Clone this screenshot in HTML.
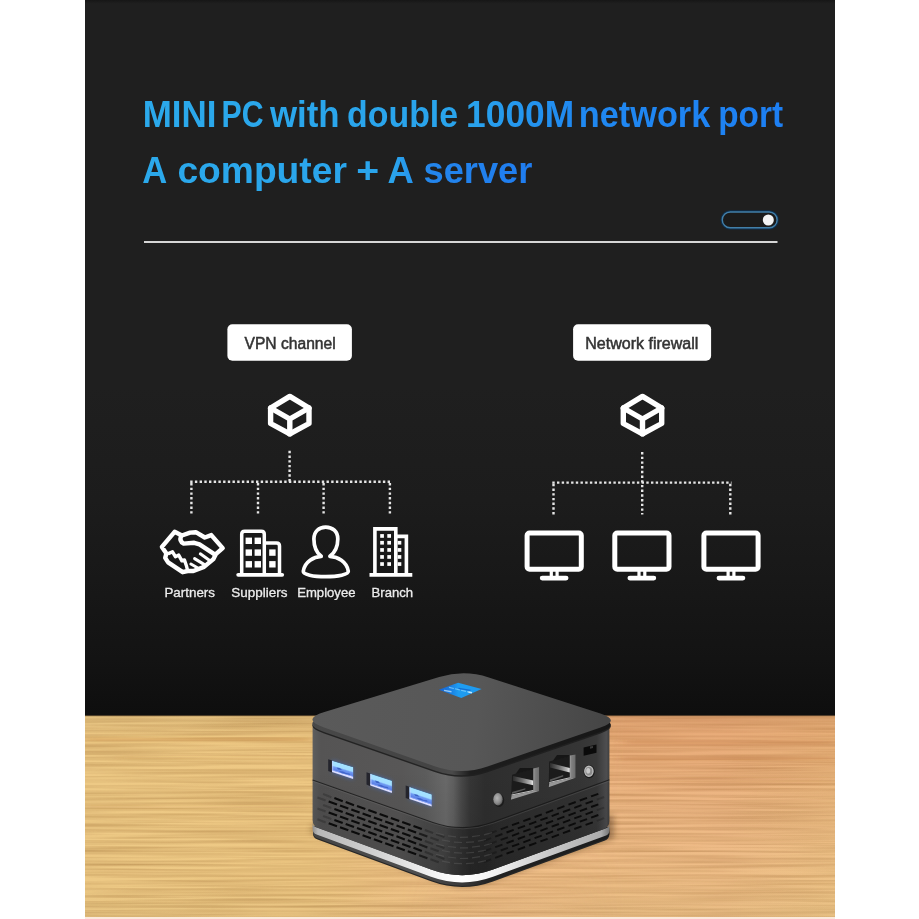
<!DOCTYPE html>
<html>
<head>
<meta charset="utf-8">
<title>MINI PC</title>
<style>
html,body{margin:0;padding:0;background:#ffffff;width:919px;height:919px;overflow:hidden}
svg{display:block;font-family:"Liberation Sans",sans-serif}
</style>
</head>
<body>
<svg width="919" height="919" viewBox="0 0 919 919">
<defs>
  <linearGradient id="bg" x1="0" y1="0" x2="0" y2="919" gradientUnits="userSpaceOnUse">
    <stop offset="0" stop-color="#161616"/>
    <stop offset="0.004" stop-color="#1f1f1f"/>
    <stop offset="0.42" stop-color="#1f1f1f"/>
    <stop offset="0.544" stop-color="#1c1c1c"/>
    <stop offset="0.631" stop-color="#181818"/>
    <stop offset="0.718" stop-color="#131313"/>
    <stop offset="0.778" stop-color="#0e0e0e"/>
  </linearGradient>
  <linearGradient id="ttl" x1="144" y1="0" x2="783" y2="0" gradientUnits="userSpaceOnUse">
    <stop offset="0" stop-color="#2ba9eb"/>
    <stop offset="0.51" stop-color="#29a3ec"/>
    <stop offset="0.67" stop-color="#2089f0"/>
    <stop offset="1" stop-color="#1d7ff3"/>
  </linearGradient>
  <linearGradient id="ttl2" x1="144" y1="0" x2="533" y2="0" gradientUnits="userSpaceOnUse">
    <stop offset="0" stop-color="#2ba9eb"/>
    <stop offset="0.64" stop-color="#2aa4ec"/>
    <stop offset="0.74" stop-color="#2385ec"/>
    <stop offset="1" stop-color="#1f7cef"/>
  </linearGradient>
  <linearGradient id="wood" x1="85" y1="0" x2="835" y2="0" gradientUnits="userSpaceOnUse">
    <stop offset="0" stop-color="#edc985"/>
    <stop offset="0.30" stop-color="#eec884"/>
    <stop offset="0.55" stop-color="#efbd88"/>
    <stop offset="0.85" stop-color="#efbb88"/>
    <stop offset="1" stop-color="#eec087"/>
  </linearGradient>
</defs>

<!-- page -->
<rect x="0" y="0" width="919" height="919" fill="#ffffff"/>
<rect id="panel" x="85" y="0" width="750" height="919" fill="url(#bg)"/>

<!-- TITLE -->
<g id="title" font-weight="bold" font-size="36.5" opacity="0.999">
 <g fill="url(#ttl)">
  <text x="142.7" y="126.8" textLength="73.7" lengthAdjust="spacingAndGlyphs">MINI</text>
  <text x="221.5" y="126.8" textLength="42.0" lengthAdjust="spacingAndGlyphs">PC</text>
  <text x="270.0" y="126.8" textLength="69.6" lengthAdjust="spacingAndGlyphs">with</text>
  <text x="347.1" y="126.8" textLength="111.0" lengthAdjust="spacingAndGlyphs">double</text>
  <text x="466.1" y="126.8" textLength="108.0" lengthAdjust="spacingAndGlyphs">1000M</text>
  <text x="578.8" y="126.8" textLength="131.5" lengthAdjust="spacingAndGlyphs">network</text>
  <text x="718.2" y="126.8" textLength="64.8" lengthAdjust="spacingAndGlyphs">port</text>
 </g>
 <g fill="url(#ttl2)">
  <text x="142.2" y="182.6" textLength="25.0" lengthAdjust="spacingAndGlyphs">A</text>
  <text x="177.4" y="182.6" textLength="169.5" lengthAdjust="spacingAndGlyphs">computer</text>
  <text x="356.2" y="182.6" textLength="22.9" lengthAdjust="spacingAndGlyphs">+</text>
  <text x="387.5" y="182.6" textLength="26.3" lengthAdjust="spacingAndGlyphs">A</text>
  <text x="423.5" y="182.6" textLength="108.9" lengthAdjust="spacingAndGlyphs">server</text>
 </g>
</g>

<!-- rule + toggle -->
<rect x="144" y="241" width="633.5" height="2" fill="#d6d6d6"/>
<g id="toggle">
  <rect x="722.3" y="212" width="54.8" height="15.8" rx="7.9" fill="none" stroke="#0e2f4d" stroke-width="3.4"/>
  <rect x="722.3" y="212" width="54.8" height="15.8" rx="7.9" fill="#1b1b1b" stroke="#427fa8" stroke-width="1.4"/>
  <circle cx="768.3" cy="220" r="5.5" fill="#f4f4f4"/>
</g>

<!--DIAGRAM-->
<g id="diagram">
  <!-- label boxes -->
  <rect x="227.4" y="324.3" width="124.5" height="36.5" rx="5" fill="#ffffff"/>
  <rect x="573.1" y="324.3" width="138" height="36.5" rx="5" fill="#ffffff"/>
  <g font-size="15.6" fill="#333333" stroke="#333333" stroke-width="0.5" opacity="0.999">
    <text x="244.5" y="348.6" textLength="91.2" lengthAdjust="spacingAndGlyphs">VPN channel</text>
    <text x="585.2" y="348.6" textLength="113.2" lengthAdjust="spacingAndGlyphs">Network firewall</text>
  </g>
  <!-- cubes -->
  <g id="cube1" fill="none" stroke="#ffffff" stroke-width="5.4" stroke-linejoin="round" stroke-linecap="round">
    <path d="M289.8 396.4 L309 408 L309 423.5 L289.8 433.9 L270.6 423.5 L270.6 408 Z"/>
    <path d="M270.6 408 L289.8 419 L309 408 M289.8 419 L289.8 433.9"/>
  </g>
  <g id="cube2" fill="none" stroke="#ffffff" stroke-width="5.4" stroke-linejoin="round" stroke-linecap="round">
    <path d="M642.5 396.4 L661.7 408 L661.7 423.5 L642.5 433.9 L623.3 423.5 L623.3 408 Z"/>
    <path d="M623.3 408 L642.5 419 L661.7 408 M642.5 419 L642.5 433.9"/>
  </g>
  <!-- dotted trees -->
  <g fill="none" stroke="#e6e6e6" stroke-width="2.4" stroke-dasharray="2.4 2.3">
    <path d="M289.6 450.8 V483"/>
    <path d="M190.2 481.8 H391.1"/>
    <path d="M191.4 483 V515.5 M258 483 V515.5 M323.6 483 V515.5 M389.9 483 V515.5"/>
    <path d="M642.2 452 V514.5"/>
    <path d="M552.3 482.6 H731.5"/>
    <path d="M553.5 483.8 V514.5 M730.3 483.8 V514.5"/>
  </g>
  <!-- monitors -->
  <g id="monitors" fill="none" stroke="#ffffff">
    <g id="mon1">
      <rect x="527.1" y="533" width="54.2" height="36.3" rx="2.5" stroke-width="5"/>
      <path d="M551.3 571 V577 M557.1 571 V577" stroke-width="3.2"/>
      <path d="M542.2 578.1 H566.1" stroke-width="4.8" stroke-linecap="round"/>
    </g>
    <g id="mon2" transform="translate(87.7 0)">
      <rect x="527.1" y="533" width="54.2" height="36.3" rx="2.5" stroke-width="5"/>
      <path d="M551.3 571 V577 M557.1 571 V577" stroke-width="3.2"/>
      <path d="M542.2 578.1 H566.1" stroke-width="4.8" stroke-linecap="round"/>
    </g>
    <g id="mon3" transform="translate(176.8 0)">
      <rect x="527.1" y="533" width="54.2" height="36.3" rx="2.5" stroke-width="5"/>
      <path d="M551.3 571 V577 M557.1 571 V577" stroke-width="3.2"/>
      <path d="M542.2 578.1 H566.1" stroke-width="4.8" stroke-linecap="round"/>
    </g>
  </g>
  <!-- icon labels -->
  <g font-size="12.6" fill="#ececec" stroke="#ececec" stroke-width="0.3" opacity="0.999">
    <text x="164.4" y="596.6" textLength="50.6" lengthAdjust="spacingAndGlyphs">Partners</text>
    <text x="231.3" y="596.6" textLength="56.1" lengthAdjust="spacingAndGlyphs">Suppliers</text>
    <text x="297.2" y="596.6" textLength="58.3" lengthAdjust="spacingAndGlyphs">Employee</text>
    <text x="371.5" y="596.6" textLength="41.6" lengthAdjust="spacingAndGlyphs">Branch</text>
  </g>
  <!--ICONS-->
  <g id="ic-hand" fill="none" stroke="#ffffff" stroke-width="4.4" stroke-linejoin="round" stroke-linecap="round">
    <path d="M174.6 531.8 L161.9 546.9 L166.4 553.4 L165.2 557.9 L168.1 562.4 L182.7 572.2 L187.6 571.0 L193.4 571.0 L204.0 566.9 L213.4 559.1 L215.8 554.2 L222.7 548.1 L211.3 535.1 L204.8 537.5 L195.8 532.2 L190.1 532.6 L181.9 535.5 Z"/>
    <path d="M181.0 536.3 Q179.1 541.2 183.6 543.6 L194.2 542.8 L199.5 544.4 L215.0 554.6"/>
    <path d="M200.3 553.8 L209.3 560.2 M194.6 558.6 L204.0 564.4 M190.9 564.0 L197.4 567.7" stroke-width="3"/>
    <path d="M168.9 553.4 L172.5 551.8 L175.4 556.7 L178.7 555.1 L181.9 560.8 L184.4 559.9 L186.4 565.7 L187.2 568.9" stroke-width="3.4"/>
  </g>
  <g id="ic-sup" fill="none" stroke="#ffffff" stroke-width="3.5">
    <path d="M241.7 574.6 V534.3 Q241.7 531.3 244.7 531.3 H261.3 Q264.3 531.3 264.3 534.3 V574.6"/>
    <path d="M264.3 543 H276.5 Q279.5 543 279.5 546 V574.6"/>
    <path d="M238.2 574.8 H282.2" stroke-width="3.8" stroke-linecap="round"/>
    <g fill="#ffffff" stroke="none">
      <rect x="245.6" y="537.6" width="6.4" height="6.4"/><rect x="254.6" y="537.6" width="6.4" height="6.4"/>
      <rect x="245.6" y="549.4" width="6.4" height="6.4"/><rect x="254.6" y="549.4" width="6.4" height="6.4"/>
      <rect x="245.6" y="561.1" width="6.4" height="6.4"/><rect x="254.6" y="561.1" width="6.4" height="6.4"/>
      <rect x="269.2" y="549.4" width="6.4" height="6.4"/><rect x="269.2" y="561.1" width="6.4" height="6.4"/>
    </g>
  </g>
  <g id="ic-emp" fill="none" stroke="#ffffff" stroke-width="3.7" stroke-linejoin="round">
    <path d="M321.2 556.3 C316.5 552.5 313.9 545.5 313.9 538.9 C313.9 531.5 319 527.1 325.7 527.1 C332.5 527.1 337.8 531.5 337.8 538.9 C337.8 545.5 334.8 552.5 329.9 556.3 C337.5 556.8 346.8 561.5 348.3 571.2 C348.5 574.5 338 576.7 325.7 576.7 C313 576.7 303 574.5 303.3 571.2 C304.8 561.5 314 556.8 321.2 556.3 Z"/>
  </g>
  <g id="ic-br" fill="none" stroke="#ffffff" stroke-width="3.6">
    <path d="M374.9 574.4 V528.9 H395.8 V574.4"/>
    <path d="M395.8 536.4 H406.4 V574.4"/>
    <path d="M369.5 574.9 H412.3" stroke-width="3.9"/>
    <g fill="#ffffff" stroke="none">
      <rect x="380.2" y="534.1" width="3.7" height="3.7"/><rect x="387.3" y="534.1" width="3.7" height="3.7"/><rect x="380.2" y="540.9" width="3.7" height="3.7"/><rect x="387.3" y="540.9" width="3.7" height="3.7"/><rect x="380.2" y="548.1" width="3.7" height="3.7"/><rect x="387.3" y="548.1" width="3.7" height="3.7"/><rect x="380.2" y="555.1" width="3.7" height="3.7"/><rect x="387.3" y="555.1" width="3.7" height="3.7"/><rect x="380.2" y="562.2" width="3.7" height="3.7"/><rect x="387.3" y="562.2" width="3.7" height="3.7"/>
      <rect x="397.6" y="540.9" width="3.7" height="3.7"/><rect x="397.6" y="548.1" width="3.7" height="3.7"/><rect x="397.6" y="555.1" width="3.7" height="3.7"/><rect x="397.6" y="562.2" width="3.7" height="3.7"/>
    </g>
  </g>
</g>
<!--WOOD-->
<g id="wood">
  <defs>
    <filter id="grain" x="0" y="0" width="100%" height="100%" color-interpolation-filters="sRGB">
      <feTurbulence type="fractalNoise" baseFrequency="0.006 0.36" numOctaves="2" seed="11" result="n"/>
      <feColorMatrix in="n" type="matrix" values="0 0 0 0 0.45  0 0 0 0 0.25  0 0 0 0 0.05  0.32 0.32 0 0 -0.235" result="g"/>
      <feComposite in="g" in2="SourceGraphic" operator="in"/>
    </filter>
    <clipPath id="woodclip"><rect x="85" y="715.6" width="750" height="201.4"/></clipPath>
    <filter id="wblur" x="-5%" y="-300%" width="110%" height="700%"><feGaussianBlur stdDeviation="6 1"/></filter>
    <linearGradient id="rmaskg" x1="85" y1="0" x2="835" y2="0" gradientUnits="userSpaceOnUse">
      <stop offset="0.42" stop-color="#000"/>
      <stop offset="0.72" stop-color="#fff"/>
    </linearGradient>
    <mask id="rmask" maskUnits="userSpaceOnUse" x="85" y="715" width="750" height="204"><rect x="85" y="715" width="750" height="204" fill="url(#rmaskg)"/></mask>
    <linearGradient id="rtint" x1="0" y1="715" x2="0" y2="917" gradientUnits="userSpaceOnUse">
      <stop offset="0" stop-color="#cf7444" stop-opacity="0.26"/>
      <stop offset="0.25" stop-color="#cf7444" stop-opacity="0.16"/>
      <stop offset="0.5" stop-color="#d88858" stop-opacity="0.04"/>
      <stop offset="0.7" stop-color="#e8d080" stop-opacity="0.06"/>
      <stop offset="1" stop-color="#ecd688" stop-opacity="0.22"/>
    </linearGradient>
    <linearGradient id="woodv" x1="0" y1="715" x2="0" y2="917" gradientUnits="userSpaceOnUse">
      <stop offset="0" stop-color="#000" stop-opacity="0.05"/>
      <stop offset="0.1" stop-color="#000" stop-opacity="0"/>
      <stop offset="0.85" stop-color="#000" stop-opacity="0"/>
      <stop offset="1" stop-color="#000" stop-opacity="0.03"/>
    </linearGradient>
  </defs>
  <rect x="85" y="715.6" width="750" height="203.4" fill="url(#wood)"/>
  <rect x="85" y="715.6" width="750" height="201.4" fill="#000" filter="url(#grain)"/>
  <rect x="85" y="715.6" width="750" height="201.4" fill="url(#woodv)"/>
  <rect x="85" y="715.6" width="750" height="201.4" fill="url(#rtint)" mask="url(#rmask)"/>
  <g clip-path="url(#woodclip)"><g filter="url(#wblur)" fill="#b8703c">
    <rect x="85" y="738" width="225" height="2.6" opacity="0.42" fill="#c4853f"/>
    <rect x="120" y="757" width="180" height="1.2" opacity="0.15"/>
    <rect x="625" y="741.5" width="210" height="1.8" opacity="0.5"/>
    <rect x="620" y="757.5" width="215" height="1.6" opacity="0.4"/>
    <rect x="85" y="806" width="220" height="1.4" opacity="0.14"/>
    <rect x="640" y="779" width="195" height="1.4" opacity="0.16"/>
  </g></g>
  <rect x="85" y="715" width="750" height="1.2" fill="#3a2a18" opacity="0.5"/>
  <rect x="85" y="917" width="750" height="2" fill="#fbe9dc"/>
</g>
<!--PC-->
<g id="pc">
  <defs>
    <linearGradient id="bodyg" x1="312" y1="0" x2="610" y2="0" gradientUnits="userSpaceOnUse">
      <stop offset="0" stop-color="#606060"/>
      <stop offset="0.012" stop-color="#5a5a5a"/>
      <stop offset="0.03" stop-color="#555454"/>
      <stop offset="0.30" stop-color="#585757"/>
      <stop offset="0.38" stop-color="#5c5c5c"/>
      <stop offset="0.42" stop-color="#646464"/>
      <stop offset="0.45" stop-color="#696969"/>
      <stop offset="0.475" stop-color="#5f5f5f"/>
      <stop offset="0.50" stop-color="#494949"/>
      <stop offset="0.53" stop-color="#363636"/>
      <stop offset="0.58" stop-color="#2e2e2e"/>
      <stop offset="0.90" stop-color="#353535"/>
      <stop offset="0.955" stop-color="#393939"/>
      <stop offset="0.988" stop-color="#4e4e50"/>
      <stop offset="1" stop-color="#3c3c3c"/>
    </linearGradient>
    <linearGradient id="bodyv" x1="0" y1="770" x2="0" y2="880" gradientUnits="userSpaceOnUse">
      <stop offset="0" stop-color="#000" stop-opacity="0"/>
      <stop offset="1" stop-color="#000" stop-opacity="0.12"/>
    </linearGradient>
    <linearGradient id="ventg" x1="312" y1="0" x2="610" y2="0" gradientUnits="userSpaceOnUse">
      <stop offset="0" stop-color="#000" stop-opacity="0.06"/>
      <stop offset="0.30" stop-color="#000" stop-opacity="0.05"/>
      <stop offset="0.40" stop-color="#000" stop-opacity="0.25"/>
      <stop offset="0.47" stop-color="#000" stop-opacity="0.42"/>
      <stop offset="0.53" stop-color="#000" stop-opacity="0.25"/>
      <stop offset="0.62" stop-color="#000" stop-opacity="0.08"/>
      <stop offset="1" stop-color="#000" stop-opacity="0.06"/>
    </linearGradient>
    <linearGradient id="topg" x1="312" y1="700" x2="610" y2="740" gradientUnits="userSpaceOnUse">
      <stop offset="0" stop-color="#5a5a5a"/>
      <stop offset="0.55" stop-color="#575757"/>
      <stop offset="1" stop-color="#454545"/>
    </linearGradient>
    <linearGradient id="lidg" x1="312" y1="0" x2="610" y2="0" gradientUnits="userSpaceOnUse">
      <stop offset="0" stop-color="#484848"/>
      <stop offset="0.40" stop-color="#444444"/>
      <stop offset="0.47" stop-color="#4a4a4a"/>
      <stop offset="0.53" stop-color="#1e1e1e"/>
      <stop offset="1" stop-color="#161616"/>
    </linearGradient>
    <linearGradient id="bandg" x1="312" y1="0" x2="610" y2="0" gradientUnits="userSpaceOnUse">
      <stop offset="0" stop-color="#8a8a8a"/>
      <stop offset="0.02" stop-color="#b8b8b8"/>
      <stop offset="0.2" stop-color="#cfcfcf"/>
      <stop offset="0.4" stop-color="#f2f2f2"/>
      <stop offset="0.5" stop-color="#ffffff"/>
      <stop offset="0.62" stop-color="#f0f0f0"/>
      <stop offset="0.8" stop-color="#c8c8c8"/>
      <stop offset="0.97" stop-color="#adadad"/>
      <stop offset="1" stop-color="#707070"/>
    </linearGradient>
    <linearGradient id="stk" x1="439" y1="0" x2="482" y2="0" gradientUnits="userSpaceOnUse">
      <stop offset="0" stop-color="#1763d2"/>
      <stop offset="0.28" stop-color="#1a7fe2"/>
      <stop offset="0.45" stop-color="#1e9cf0"/>
      <stop offset="1" stop-color="#1e9af0"/>
    </linearGradient>
    <linearGradient id="baseg" x1="312" y1="0" x2="610" y2="0" gradientUnits="userSpaceOnUse">
      <stop offset="0" stop-color="#444444"/>
      <stop offset="0.35" stop-color="#505050"/>
      <stop offset="0.5" stop-color="#3a3a3a"/>
      <stop offset="0.6" stop-color="#222222"/>
      <stop offset="1" stop-color="#1c1c1c"/>
    </linearGradient>
    <linearGradient id="usbg" x1="0" y1="0" x2="0" y2="1">
      <stop offset="0" stop-color="#a6d8ff"/>
      <stop offset="0.28" stop-color="#86c2ff"/>
      <stop offset="0.5" stop-color="#4f86f2"/>
      <stop offset="0.78" stop-color="#5c90fb"/>
      <stop offset="1" stop-color="#b4ceff"/>
    </linearGradient>
    <linearGradient id="ethbar" x1="0" y1="0" x2="1" y2="0">
      <stop offset="0" stop-color="#2c2c2c"/>
      <stop offset="0.45" stop-color="#6a6a6a"/>
      <stop offset="0.85" stop-color="#b8b8b8"/>
      <stop offset="1" stop-color="#ececec"/>
    </linearGradient>
    <linearGradient id="ethwall" x1="0" y1="0" x2="1" y2="0">
      <stop offset="0" stop-color="#a0a0a0"/>
      <stop offset="0.3" stop-color="#808080"/>
      <stop offset="1" stop-color="#6c6c6c"/>
    </linearGradient>
    <radialGradient id="screw" cx="0.4" cy="0.4" r="0.7">
      <stop offset="0" stop-color="#b5b5b5"/>
      <stop offset="0.6" stop-color="#8a8a8a"/>
      <stop offset="1" stop-color="#4a4a4a"/>
    </radialGradient>
    <filter id="blur3" x="-20%" y="-20%" width="140%" height="140%"><feGaussianBlur stdDeviation="3"/></filter>
    <filter id="glow" x="-30%" y="-30%" width="160%" height="160%"><feGaussianBlur stdDeviation="2"/></filter>
  </defs>
  <!-- shadow -->
  <path d="M311 832 L440 881 Q462 891 484 883 L614 838 L614 815 L312 826 Z" fill="#3a2408" opacity="0.4" filter="url(#blur3)"/>
  <!-- base -->
  <path d="M313.0 825.9 L313.0 832.7 Q312.6 838.0 317.6 839.5 L431.0 881.3 Q462.0 892.7 493.0 881.4 L604.4 840.7 Q609.4 839.2 609.4 833.9 L609.0 827.1 Z" fill="#262626"/>
  <path d="M313.0 825.9 L313.0 831.5 Q312.6 836.8 317.6 838.3 L431.0 880.1 Q462.0 891.5 493.0 880.2 L604.4 839.5 Q609.4 838.0 609.4 832.7 L609.0 827.1 Z" fill="url(#baseg)"/>
  <!-- silver band -->
  <path d="M312.6 820.9 L312.6 821.9 Q312.6 826.2 316.6 827.4 L431.0 869.5 Q462.0 880.9 493.0 869.6 L605.4 828.5 Q609.4 827.4 609.4 823.1 L609.4 830.3 Q609.4 834.6 605.4 835.7 L493.0 876.8 Q462.0 888.1 431.0 876.7 L316.6 834.5 Q312.6 833.4 312.6 829.1 Z" fill="url(#bandg)"/>
  <!-- body -->
  <path d="M312.6 722 L312.6 819.9 Q312.6 826.2 318.6 828.1 L431.0 869.5 Q462.0 880.9 493.0 869.6 L603.4 829.2 Q609.4 827.4 609.4 821.1 L609.4 722 Z" fill="url(#bodyg)"/>
  <path d="M312.6 722 L312.6 819.9 Q312.6 826.2 318.6 828.1 L431.0 869.5 Q462.0 880.9 493.0 869.6 L603.4 829.2 Q609.4 827.4 609.4 821.1 L609.4 722 Z" fill="url(#bodyv)"/>
  <!-- vent zone -->
  <path d="M312.6 779.9 L432.9 822.4 Q463.1 833.0 493.2 822.1 L609.4 779.8 L609.4 823.1 L609.4 827.1 L493.0 869.6 Q462.0 880.9 431.0 869.5 L312.6 825.9 Z" fill="url(#ventg)"/>
  <path d="M312.6 779.9 L432.9 822.4 Q463.1 833.0 493.2 822.1 L609.4 779.8" fill="none" stroke="#161616" stroke-width="1.1" opacity="0.75"/>
  <path d="M312.6 781.1 L432.9 823.6 Q463.1 834.2 493.2 823.3 L609.4 781.0" fill="none" stroke="#8a8a8a" stroke-width="0.8" opacity="0.25"/>
  <g id="dashes" stroke="#0b0b0b" stroke-width="2.1" stroke-linecap="butt" fill="none">
  <path d="M323.1 794.1 L331.4 797.2" opacity="0.22"/><path d="M334.4 798.1 L342.7 801.2" opacity="1"/><path d="M345.7 802.1 L354.0 805.2" opacity="1"/><path d="M357.0 806.1 L365.3 809.1" opacity="1"/><path d="M368.3 810.1 L376.6 813.1" opacity="1"/><path d="M379.6 814.1 L387.9 817.1" opacity="1"/><path d="M390.9 818.1 L399.2 821.1" opacity="1"/><path d="M402.2 822.1 L410.5 825.1" opacity="1"/><path d="M413.5 826.0 L421.8 829.1" opacity="1"/><path d="M424.8 830.0 L433.1 833.1" opacity="0.3"/><path d="M436.1 834.0 L444.4 837.1" opacity="0.3"/><path d="M317.4 797.5 L325.7 800.6" opacity="0.22"/><path d="M328.7 801.5 L337.0 804.5" opacity="1"/><path d="M340.0 805.5 L348.3 808.5" opacity="1"/><path d="M351.3 809.5 L359.6 812.5" opacity="1"/><path d="M362.6 813.5 L370.9 816.5" opacity="1"/><path d="M373.9 817.5 L382.2 820.5" opacity="1"/><path d="M385.2 821.5 L393.5 824.5" opacity="1"/><path d="M396.5 825.4 L404.8 828.5" opacity="1"/><path d="M407.8 829.4 L416.1 832.5" opacity="1"/><path d="M419.1 833.4 L427.4 836.5" opacity="0.7"/><path d="M430.4 837.4 L438.7 840.4" opacity="0.3"/><path d="M323.1 805.0 L331.4 808.1" opacity="0.22"/><path d="M334.4 809.0 L342.7 812.1" opacity="1"/><path d="M345.7 813.0 L354.0 816.1" opacity="1"/><path d="M357.0 817.0 L365.3 820.0" opacity="1"/><path d="M368.3 821.0 L376.6 824.0" opacity="1"/><path d="M379.6 825.0 L387.9 828.0" opacity="1"/><path d="M390.9 829.0 L399.2 832.0" opacity="1"/><path d="M402.2 833.0 L410.5 836.0" opacity="1"/><path d="M413.5 836.9 L421.8 840.0" opacity="1"/><path d="M424.8 840.9 L433.1 844.0" opacity="0.3"/><path d="M436.1 844.9 L444.4 848.0" opacity="0.3"/><path d="M317.4 808.4 L325.7 811.5" opacity="0.22"/><path d="M328.7 812.4 L337.0 815.4" opacity="1"/><path d="M340.0 816.4 L348.3 819.4" opacity="1"/><path d="M351.3 820.4 L359.6 823.4" opacity="1"/><path d="M362.6 824.4 L370.9 827.4" opacity="1"/><path d="M373.9 828.4 L382.2 831.4" opacity="1"/><path d="M385.2 832.4 L393.5 835.4" opacity="1"/><path d="M396.5 836.3 L404.8 839.4" opacity="1"/><path d="M407.8 840.3 L416.1 843.4" opacity="1"/><path d="M419.1 844.3 L427.4 847.4" opacity="0.7"/><path d="M430.4 848.3 L438.7 851.3" opacity="0.3"/><path d="M323.1 815.9 L331.4 819.0" opacity="0.22"/><path d="M334.4 819.9 L342.7 823.0" opacity="1"/><path d="M345.7 823.9 L354.0 827.0" opacity="1"/><path d="M357.0 827.9 L365.3 830.9" opacity="1"/><path d="M368.3 831.9 L376.6 834.9" opacity="1"/><path d="M379.6 835.9 L387.9 838.9" opacity="1"/><path d="M390.9 839.9 L399.2 842.9" opacity="1"/><path d="M402.2 843.9 L410.5 846.9" opacity="1"/><path d="M413.5 847.8 L421.8 850.9" opacity="1"/><path d="M424.8 851.8 L433.1 854.9" opacity="0.3"/><path d="M436.1 855.8 L444.4 858.9" opacity="0.3"/><path d="M317.4 819.3 L325.7 822.4" opacity="0.22"/><path d="M328.7 823.3 L337.0 826.3" opacity="1"/><path d="M340.0 827.3 L348.3 830.3" opacity="1"/><path d="M351.3 831.3 L359.6 834.3" opacity="1"/><path d="M362.6 835.3 L370.9 838.3" opacity="1"/><path d="M373.9 839.3 L382.2 842.3" opacity="1"/><path d="M385.2 843.3 L393.5 846.3" opacity="1"/><path d="M396.5 847.2 L404.8 850.3" opacity="1"/><path d="M407.8 851.2 L416.1 854.3" opacity="1"/><path d="M419.1 855.2 L427.4 858.3" opacity="0.7"/><path d="M430.4 859.2 L438.7 862.2" opacity="0.3"/><path d="M591.1 796.4 L598.3 793.8" opacity="1" stroke-width="1.9"/><path d="M579.8 800.5 L587.0 797.9" opacity="1" stroke-width="1.9"/><path d="M568.5 804.7 L575.7 802.0" opacity="1" stroke-width="1.9"/><path d="M557.2 808.8 L564.4 806.1" opacity="1" stroke-width="1.9"/><path d="M545.9 812.9 L553.1 810.2" opacity="1" stroke-width="1.9"/><path d="M534.6 817.0 L541.8 814.4" opacity="1" stroke-width="1.9"/><path d="M523.3 821.1 L530.5 818.5" opacity="1" stroke-width="1.9"/><path d="M512.0 825.2 L519.2 822.6" opacity="1" stroke-width="1.9"/><path d="M500.7 829.3 L507.9 826.7" opacity="0.75" stroke-width="1.9"/><path d="M489.4 833.5 L496.6 830.8" opacity="0.35" stroke-width="1.9"/><path d="M596.9 799.6 L604.1 797.0" opacity="0.25" stroke-width="1.9"/><path d="M585.6 803.7 L592.8 801.1" opacity="1" stroke-width="1.9"/><path d="M574.3 807.8 L581.5 805.2" opacity="1" stroke-width="1.9"/><path d="M563.0 812.0 L570.2 809.3" opacity="1" stroke-width="1.9"/><path d="M551.7 816.1 L558.9 813.4" opacity="1" stroke-width="1.9"/><path d="M540.4 820.2 L547.6 817.6" opacity="1" stroke-width="1.9"/><path d="M529.1 824.3 L536.3 821.7" opacity="1" stroke-width="1.9"/><path d="M517.8 828.4 L525.0 825.8" opacity="1" stroke-width="1.9"/><path d="M506.5 832.5 L513.7 829.9" opacity="1" stroke-width="1.9"/><path d="M495.2 836.6 L502.4 834.0" opacity="0.75" stroke-width="1.9"/><path d="M483.9 840.8 L491.1 838.1" opacity="0.35" stroke-width="1.9"/><path d="M591.1 807.0 L598.3 804.4" opacity="1" stroke-width="1.9"/><path d="M579.8 811.1 L587.0 808.5" opacity="1" stroke-width="1.9"/><path d="M568.5 815.3 L575.7 812.6" opacity="1" stroke-width="1.9"/><path d="M557.2 819.4 L564.4 816.7" opacity="1" stroke-width="1.9"/><path d="M545.9 823.5 L553.1 820.8" opacity="1" stroke-width="1.9"/><path d="M534.6 827.6 L541.8 825.0" opacity="1" stroke-width="1.9"/><path d="M523.3 831.7 L530.5 829.1" opacity="1" stroke-width="1.9"/><path d="M512.0 835.8 L519.2 833.2" opacity="1" stroke-width="1.9"/><path d="M500.7 839.9 L507.9 837.3" opacity="0.75" stroke-width="1.9"/><path d="M489.4 844.1 L496.6 841.4" opacity="0.35" stroke-width="1.9"/><path d="M596.9 810.2 L604.1 807.6" opacity="0.25" stroke-width="1.9"/><path d="M585.6 814.3 L592.8 811.7" opacity="1" stroke-width="1.9"/><path d="M574.3 818.4 L581.5 815.8" opacity="1" stroke-width="1.9"/><path d="M563.0 822.6 L570.2 819.9" opacity="1" stroke-width="1.9"/><path d="M551.7 826.7 L558.9 824.0" opacity="1" stroke-width="1.9"/><path d="M540.4 830.8 L547.6 828.2" opacity="1" stroke-width="1.9"/><path d="M529.1 834.9 L536.3 832.3" opacity="1" stroke-width="1.9"/><path d="M517.8 839.0 L525.0 836.4" opacity="1" stroke-width="1.9"/><path d="M506.5 843.1 L513.7 840.5" opacity="1" stroke-width="1.9"/><path d="M495.2 847.2 L502.4 844.6" opacity="0.75" stroke-width="1.9"/><path d="M483.9 851.4 L491.1 848.7" opacity="0.35" stroke-width="1.9"/><path d="M591.1 817.6 L598.3 815.0" opacity="1" stroke-width="1.9"/><path d="M579.8 821.7 L587.0 819.1" opacity="1" stroke-width="1.9"/><path d="M568.5 825.9 L575.7 823.2" opacity="1" stroke-width="1.9"/><path d="M557.2 830.0 L564.4 827.3" opacity="1" stroke-width="1.9"/><path d="M545.9 834.1 L553.1 831.4" opacity="1" stroke-width="1.9"/><path d="M534.6 838.2 L541.8 835.6" opacity="1" stroke-width="1.9"/><path d="M523.3 842.3 L530.5 839.7" opacity="1" stroke-width="1.9"/><path d="M512.0 846.4 L519.2 843.8" opacity="1" stroke-width="1.9"/><path d="M500.7 850.5 L507.9 847.9" opacity="0.75" stroke-width="1.9"/><path d="M489.4 854.7 L496.6 852.0" opacity="0.35" stroke-width="1.9"/><path d="M596.9 820.8 L604.1 818.2" opacity="0.25" stroke-width="1.9"/><path d="M585.6 824.9 L592.8 822.3" opacity="1" stroke-width="1.9"/><path d="M574.3 829.0 L581.5 826.4" opacity="1" stroke-width="1.9"/><path d="M563.0 833.2 L570.2 830.5" opacity="1" stroke-width="1.9"/><path d="M551.7 837.3 L558.9 834.6" opacity="1" stroke-width="1.9"/><path d="M540.4 841.4 L547.6 838.8" opacity="1" stroke-width="1.9"/><path d="M529.1 845.5 L536.3 842.9" opacity="1" stroke-width="1.9"/><path d="M517.8 849.6 L525.0 847.0" opacity="1" stroke-width="1.9"/><path d="M506.5 853.7 L513.7 851.1" opacity="1" stroke-width="1.9"/><path d="M495.2 857.8 L502.4 855.2" opacity="0.75" stroke-width="1.9"/><path d="M483.9 862.0 L491.1 859.3" opacity="0.35" stroke-width="1.9"/>
  </g>
  <g id="cdashes" stroke="#6a6a6a" stroke-width="1.2" opacity="0.35" fill="none">
  <path d="M436.0 833.2 L444.0 835.2"/><path d="M448.0 835.9 L456.0 836.8"/><path d="M460.0 837.3 L468.0 837.2"/><path d="M472.0 836.6 L480.0 835.5"/><path d="M484.0 834.9 L492.0 832.7"/><path d="M442.0 840.0 L450.0 841.4"/><path d="M454.0 842.1 L462.0 842.5"/><path d="M466.0 842.4 L474.0 841.8"/><path d="M478.0 841.2 L486.0 839.5"/><path d="M436.0 843.8 L444.0 845.8"/><path d="M448.0 846.5 L456.0 847.4"/><path d="M460.0 847.9 L468.0 847.8"/><path d="M472.0 847.2 L480.0 846.1"/><path d="M484.0 845.5 L492.0 843.3"/><path d="M442.0 850.5 L450.0 852.0"/><path d="M454.0 852.7 L462.0 853.1"/><path d="M466.0 853.0 L474.0 852.4"/><path d="M478.0 851.7 L486.0 850.1"/><path d="M436.0 854.4 L444.0 856.4"/><path d="M448.0 857.0 L456.0 858.0"/><path d="M460.0 858.5 L468.0 858.4"/><path d="M472.0 857.8 L480.0 856.7"/><path d="M484.0 856.1 L492.0 853.9"/><path d="M442.0 861.1 L450.0 862.6"/><path d="M454.0 863.3 L462.0 863.7"/><path d="M466.0 863.6 L474.0 863.0"/><path d="M478.0 862.3 L486.0 860.7"/>
  </g>
  <!-- lid -->
  <path d="M324.1 733.4 Q300.5 725.1 324.4 717.8 L439.2 682.8 Q464.1 675.2 488.8 683.2 L600.4 719.4 Q621.3 726.2 600.5 733.4 L487.5 772.2 Q461.0 781.3 434.6 772.0 Z" fill="#1e1e1e" opacity="0.9"/>
  <path d="M324.1 731.9 Q300.5 723.6 324.4 716.3 L439.2 681.3 Q464.1 673.7 488.8 681.7 L600.4 717.9 Q621.3 724.7 600.5 731.9 L487.5 770.7 Q461.0 779.8 434.6 770.5 Z" fill="url(#lidg)"/>
  <path d="M324.1 727.6 Q300.5 719.3 324.4 712.0 L439.2 677.0 Q464.1 669.4 488.8 677.4 L600.4 713.6 Q621.3 720.4 600.5 727.6 L487.5 766.4 Q461.0 775.5 434.6 766.2 Z" fill="url(#topg)"/>
  <!-- sticker -->
  <path d="M438.8 689.7 L458.1 682.8 L481.6 689 L461.3 697.9 Z" fill="url(#stk)"/>
  <path d="M449 687.3 L469.2 692.2" stroke="#9fe0ff" stroke-width="1.2" opacity="0.6" stroke-dasharray="5 1.2"/>
  <path d="M444 690.4 L451.5 691.8" stroke="#c8ecff" stroke-width="1.4" opacity="0.7"/>
  <path d="M458.5 688.4 L470.5 690.4" stroke="#1660c8" stroke-width="1.2" opacity="0.8"/>
  <path d="M468.5 692 L472 692.8" stroke="#d8f2ff" stroke-width="1.4" opacity="0.9"/>
  <!-- usb -->
  <g filter="url(#glow)" opacity="0.45">
    <path d="M332.4 760 L353.1 767.4 L353.1 779.4 L332.4 772.9 Z" fill="#3f7dff"/>
    <path d="M370.3 773.5 L391.9 781 L391.9 793.1 L370.3 786.2 Z" fill="#3f7dff"/>
    <path d="M409.6 786.8 L431.9 794.4 L431.9 806.4 L409.6 799.3 Z" fill="#3f7dff"/>
  </g>
  <g>
    <linearGradient id="u1" gradientUnits="userSpaceOnUse" x1="332" y1="760.5" x2="328.83" y2="770.94">
      <stop offset="0" stop-color="#4d7ea6"/>
      <stop offset="0.07" stop-color="#a4e2ff"/>
      <stop offset="0.40" stop-color="#a2defF"/>
      <stop offset="0.52" stop-color="#6f9af2"/>
      <stop offset="0.76" stop-color="#5b80e6"/>
      <stop offset="0.86" stop-color="#93acf6"/>
      <stop offset="0.91" stop-color="#e4e4ff"/>
      <stop offset="1" stop-color="#d2d6ff"/>
    </linearGradient>
    <path d="M328.2 759.3 L332 760.5 L332 772.5 L328.2 770.9 Z" fill="#24242c"/>
    <path d="M332 760.5 L353.1 766.9 L353.1 779.1 L332 771.9 Z" fill="url(#u1)"/>
    <path d="M336.5 767.5 L340.0 768.1 L342.0 770.1 L338.0 769.5 Z" fill="#2a4fb4" opacity="0.75"/>
    <path d="M339.0 771.2 L343.0 771.6 L346.0 773.1 L349.5 773.4 L350.0 775.0 L341.0 773.0 Z" fill="#2c50b8" opacity="0.6"/>
    <path d="M332.6 761.0 L332.6 771.4" stroke="#c4d4ff" stroke-width="1.4" opacity="0.6" fill="none"/>
    </g>
  <g>
    <linearGradient id="u2" gradientUnits="userSpaceOnUse" x1="370.3" y1="773.5" x2="366.71" y2="784.42">
      <stop offset="0" stop-color="#4d7ea6"/>
      <stop offset="0.07" stop-color="#a4e2ff"/>
      <stop offset="0.40" stop-color="#a2defF"/>
      <stop offset="0.52" stop-color="#6f9af2"/>
      <stop offset="0.76" stop-color="#5b80e6"/>
      <stop offset="0.86" stop-color="#93acf6"/>
      <stop offset="0.91" stop-color="#e4e4ff"/>
      <stop offset="1" stop-color="#d2d6ff"/>
    </linearGradient>
    <path d="M366.5 772.3 L370.3 773.5 L370.3 786.2 L366.5 784.6 Z" fill="#24242c"/>
    <path d="M370.3 773.5 L391.9 780.6 L391.9 792.9 L370.3 785.6 Z" fill="url(#u2)"/>
    <path d="M374.8 780.6 L378.3 781.3 L380.3 783.4 L376.3 782.7 Z" fill="#2a4fb4" opacity="0.75"/>
    <path d="M377.3 784.4 L381.3 784.9 L384.3 786.5 L387.8 786.9 L388.3 788.4 L379.3 786.3 Z" fill="#2c50b8" opacity="0.6"/>
    <path d="M370.90000000000003 774.0 L370.90000000000003 785.1" stroke="#c4d4ff" stroke-width="1.4" opacity="0.6" fill="none"/>
    </g>
  <g>
    <linearGradient id="u3" gradientUnits="userSpaceOnUse" x1="409.5" y1="786.8" x2="405.87" y2="797.69">
      <stop offset="0" stop-color="#4d7ea6"/>
      <stop offset="0.07" stop-color="#a4e2ff"/>
      <stop offset="0.40" stop-color="#a2defF"/>
      <stop offset="0.52" stop-color="#6f9af2"/>
      <stop offset="0.76" stop-color="#5b80e6"/>
      <stop offset="0.86" stop-color="#93acf6"/>
      <stop offset="0.91" stop-color="#e4e4ff"/>
      <stop offset="1" stop-color="#d2d6ff"/>
    </linearGradient>
    <path d="M405.7 785.5999999999999 L409.5 786.8 L409.5 799.5 L405.7 797.9 Z" fill="#24242c"/>
    <path d="M409.5 786.8 L431.7 794.2 L431.7 806.5 L409.5 798.9 Z" fill="url(#u3)"/>
    <path d="M414.0 793.9 L417.5 794.7 L419.5 796.7 L415.5 796.0 Z" fill="#2a4fb4" opacity="0.75"/>
    <path d="M416.5 797.7 L420.5 798.3 L423.5 799.9 L427.0 800.2 L427.5 801.8 L418.5 799.6 Z" fill="#2c50b8" opacity="0.6"/>
    <path d="M410.1 787.3 L410.1 798.4" stroke="#c4d4ff" stroke-width="1.4" opacity="0.6" fill="none"/>
    </g>
  <!-- ethernet -->
  <g>
    <path d="M512.1 774.7 L539.1 766.9 L539.1 790.9 L510.9 799.8 Z" fill="#1b1b1b"/>
    <path d="M515.6 774.0 L519.9 768.1 L532.7 768.1 L533.3 768.9 Z" fill="#161616"/>
    <path d="M512.9 776.1 L533.3 780.6 L533.3 785.2 L512.9 780.7 Z" fill="url(#ethbar)"/>
    <path d="M533.3 768.5 L539.1 766.9 L539.1 790.9 L533.3 791.1 Z" fill="url(#ethwall)"/>
    <path d="M510.9 799.8 L539.1 790.9 L533.3 791.1 L511.5 795.4 Z" fill="#979797"/>
    <path d="M511.5 795.4 L533.3 791.1 L533.3 790.1 L511.5 794.4 Z" fill="#c4c4c4"/>
    <path d="M512.1 792.0 L525.4 788.2 L525.4 789.6 L512.1 794.0 Z" fill="#5a5a5a"/>
    </g>
  <g>
    <path d="M549.2 761.5 L575.6 754.4 L575.6 777.7 L548.7 787.3 Z" fill="#1b1b1b"/>
    <path d="M552.7 760.9 L557.0 755.1 L569.2 755.1 L569.8 756.3 Z" fill="#161616"/>
    <path d="M550.0 762.9 L569.8 768.0 L569.8 772.6 L550.0 767.5 Z" fill="url(#ethbar)"/>
    <path d="M569.8 755.5 L575.6 754.4 L575.6 777.7 L569.8 778.2 Z" fill="url(#ethwall)"/>
    <path d="M548.7 787.3 L575.6 777.7 L569.8 778.2 L549.3 782.9 Z" fill="#979797"/>
    <path d="M549.3 782.9 L569.8 778.2 L569.8 777.2 L549.3 781.9 Z" fill="#c4c4c4"/>
    <path d="M549.9 779.5 L563.2 775.1 L563.2 776.5 L549.9 781.5 Z" fill="#5a5a5a"/>
    </g>
  <!-- screws -->
  <ellipse cx="499" cy="800.3" rx="5.2" ry="6.6" fill="#1c1c1c"/>
  <ellipse cx="498" cy="799.3" rx="4.7" ry="6.2" fill="url(#screw)"/>
  <ellipse cx="589.2" cy="771.6" rx="5.6" ry="6.6" fill="#1b1b1b"/>
  <ellipse cx="588.9" cy="771.3" rx="4.1" ry="5" fill="#8a8a8a" stroke="#bdbdbd" stroke-width="1.4"/>
  <ellipse cx="588.2" cy="770.8" rx="2" ry="2.8" fill="#c8c8c8"/>
  <!-- slot -->
  <path d="M583.6 747.4 L596.5 744.4 L596.5 752.8 L583.6 755.8 Z" fill="#0a0a0a"/>
  <path d="M590 746.6 L593 745.9 L593 748 L590 748.7 Z" fill="#3a3a3a"/>
</g>
</svg>
</body>
</html>
